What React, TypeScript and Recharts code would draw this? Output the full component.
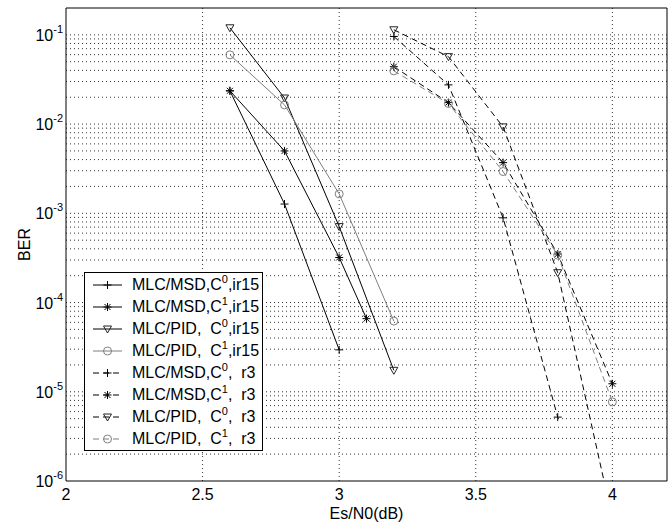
import React from "react";
import { LineChart, Line, XAxis, YAxis, ReferenceLine } from "recharts";

// Es/N0 (dB) positions
const xIr15 = [2.6, 2.8, 3.0, 3.2];
const xIr15Msd1 = [2.6, 2.8, 3.0, 3.1];
const xR3 = [3.2, 3.4, 3.6, 3.8, 4.0];

// BER values
const msdC0Ir15 = [0.0236, 1.27e-3, 2.95e-5];
const msdC1Ir15 = [0.0236, 5.0e-3, 3.2e-4, 6.6e-5];
const pidC0Ir15 = [0.12, 0.0196, 7.1e-4, 1.74e-5];
const pidC1Ir15 = [0.0597, 0.0164, 1.65e-3, 6.2e-5];
const msdC0R3 = [0.096, 0.0275, 8.9e-4, 5.2e-6];
const msdC1R3 = [0.044, 0.0174, 3.7e-3, 3.5e-4, 1.23e-5];
const pidC0R3 = [0.114, 0.057, 9.3e-3, 2.16e-4, 3.8e-7];
const pidC1R3 = [0.0395, 0.017, 2.94e-3, 3.4e-4, 7.7e-6];

const xTicks = [2, 2.5, 3, 3.5, 4];
const xGrid = [2.5, 3, 3.5, 4];
const yTicks = [1e-6, 1e-5, 1e-4, 1e-3, 1e-2, 1e-1];
const minorSteps = [1, 2, 3, 4, 5, 6, 7, 8, 9];
const yGrid = yTicks
  .flatMap((d) => minorSteps.map((m) => m * d))
  .filter((v) => v > 1.01e-6 && v < 0.199);

const X_DOMAIN: [number, number] = [2, 4.2];
const Y_DOMAIN: [number, number] = [1e-6, 0.2];

const BLACK = "#000";
const GRAY = "#7f7f7f";
const TRI = "#222";

type Shape = "plus" | "star" | "tri" | "circle";

interface Series {
  id: string;
  label: string;
  sup: string;
  tail: string;
  xs: number[];
  ys: number[];
  shape: Shape;
  color: string;
  mark: string;
  dashed: boolean;
}

const series: Series[] = [
  { id: "a", label: "MLC/MSD,C", sup: "0", tail: ",ir15", xs: xIr15, ys: msdC0Ir15, shape: "plus", color: BLACK, mark: BLACK, dashed: false },
  { id: "b", label: "MLC/MSD,C", sup: "1", tail: ",ir15", xs: xIr15Msd1, ys: msdC1Ir15, shape: "star", color: BLACK, mark: BLACK, dashed: false },
  { id: "c", label: "MLC/PID,  C", sup: "0", tail: ",ir15", xs: xIr15, ys: pidC0Ir15, shape: "tri", color: BLACK, mark: TRI, dashed: false },
  { id: "d", label: "MLC/PID,  C", sup: "1", tail: ",ir15", xs: xIr15, ys: pidC1Ir15, shape: "circle", color: GRAY, mark: GRAY, dashed: false },
  { id: "e", label: "MLC/MSD,C", sup: "0", tail: ",  r3", xs: xR3, ys: msdC0R3, shape: "plus", color: BLACK, mark: BLACK, dashed: true },
  { id: "f", label: "MLC/MSD,C", sup: "1", tail: ",  r3", xs: xR3, ys: msdC1R3, shape: "star", color: BLACK, mark: BLACK, dashed: true },
  { id: "g", label: "MLC/PID,  C", sup: "0", tail: ",  r3", xs: xR3, ys: pidC0R3, shape: "tri", color: BLACK, mark: TRI, dashed: true },
  { id: "h", label: "MLC/PID,  C", sup: "1", tail: ",  r3", xs: xR3, ys: pidC1R3, shape: "circle", color: GRAY, mark: GRAY, dashed: true },
];

function markerPath(shape: Shape, cx: number, cy: number, color: string, key?: string) {
  if (shape === "plus") {
    return <path key={key} d={`M${cx - 4},${cy}H${cx + 4}M${cx},${cy - 4}V${cy + 4}`} stroke={color} strokeWidth={1} fill="none" />;
  }
  if (shape === "star") {
    return (
      <path
        key={key}
        d={`M${cx - 4},${cy}H${cx + 4}M${cx},${cy - 4}V${cy + 4}M${cx - 3},${cy - 3}L${cx + 3},${cy + 3}M${cx - 3},${cy + 3}L${cx + 3},${cy - 3}`}
        stroke={color}
        strokeWidth={1}
        fill="none"
      />
    );
  }
  if (shape === "tri") {
    return <path key={key} d={`M${cx - 4},${cy - 3}L${cx + 4},${cy - 3}L${cx},${cy + 4}Z`} stroke={color} strokeWidth={1} fill="none" />;
  }
  return <circle key={key} cx={cx} cy={cy} r={4} stroke={color} strokeWidth={1} fill="none" />;
}

const makeDot = (s: Series) => (props: any) => {
  const { cx, cy, index } = props;
  if (cx == null || cy == null) return <g key={`${s.id}-${index}`} />;
  return markerPath(s.shape, cx, cy, s.mark, `${s.id}-${index}`);
};

const YTick = (props: any) => {
  const { x, y, payload } = props;
  const exp = Math.round(Math.log10(payload.value));
  return (
    <text x={x - 3} y={y + 6} textAnchor="end" fontSize={16} fill="#000">
      <tspan>10</tspan>
      <tspan dy={-8} fontSize={11}>{String(exp)}</tspan>
    </text>
  );
};

function LegendBox() {
  return (
    <div
      style={{
        position: "absolute",
        left: 84,
        top: 272,
        width: 177,
        height: 176,
        border: "1px solid #000",
        background: "#fff",
        paddingTop: 1,
        fontFamily: "'Liberation Sans', Arial, sans-serif",
        fontSize: 16,
        color: "#000",
      }}
    >
      {series.map((s) => (
        <div key={s.id} style={{ height: 22, lineHeight: "22px", position: "relative", whiteSpace: "pre" }}>
          <svg width={30} height={22} style={{ position: "absolute", left: 8, top: 0 }}>
            <line x1={0} y1={11} x2={29} y2={11} stroke={s.color} strokeWidth={1} strokeDasharray={s.dashed ? "6 4" : undefined} />
            {markerPath(s.shape, 14.5, 11, s.mark)}
          </svg>
          <span style={{ position: "absolute", left: 47, top: 0 }}>
            {s.label}
            <span style={{ fontSize: 11, position: "relative", top: -7 }}>{s.sup}</span>
            {s.tail}
          </span>
        </div>
      ))}
    </div>
  );
}

export default function App() {
  return (
    <div style={{ position: "absolute", left: 0, top: 0, width: 670, height: 523, background: "#fff" }}>
      <LineChart
        width={670}
        height={523}
        margin={{ top: 8, right: 3, left: 0, bottom: 0 }}
        style={{ fontFamily: "'Liberation Sans', Arial, sans-serif" }}
      >
        <XAxis
          xAxisId="b"
          type="number"
          dataKey="x"
          domain={X_DOMAIN}
          allowDataOverflow
          ticks={xTicks}
          interval={0}
          height={42}
          tickLine={false}
          tickSize={0}
          tickMargin={8}
          axisLine={{ stroke: "#000" }}
          tick={{ fontSize: 16, fill: "#000" }}
          label={{ value: "Es/N0(dB)", position: "insideBottom", offset: 4, fontSize: 16, fill: "#000" }}
        />
        <XAxis
          xAxisId="bm"
          type="number"
          orientation="bottom"
          mirror
          domain={X_DOMAIN}
          allowDataOverflow
          ticks={xGrid}
          interval={0}
          tick={false}
          tickSize={5}
          axisLine={false}
          tickLine={{ stroke: "#000" }}
        />
        <XAxis
          xAxisId="t"
          type="number"
          orientation="top"
          mirror
          domain={X_DOMAIN}
          allowDataOverflow
          ticks={xGrid}
          interval={0}
          tick={false}
          tickSize={5}
          axisLine={{ stroke: "#000" }}
          tickLine={{ stroke: "#000" }}
        />
        <YAxis
          yAxisId="l"
          type="number"
          scale="log"
          domain={Y_DOMAIN}
          allowDataOverflow
          ticks={yTicks}
          interval={0}
          width={66}
          tickLine={false}
          tickSize={0}
          tickMargin={0}
          axisLine={{ stroke: "#000" }}
          tick={<YTick />}
          label={{ value: "BER", angle: -90, position: "insideLeft", offset: 24, fontSize: 16, fill: "#000", style: { textAnchor: "middle" } }}
        />
        <YAxis
          yAxisId="lm"
          type="number"
          scale="log"
          orientation="left"
          mirror
          domain={Y_DOMAIN}
          allowDataOverflow
          ticks={yTicks}
          interval={0}
          tick={false}
          tickSize={5}
          axisLine={false}
          tickLine={{ stroke: "#000" }}
        />
        <YAxis
          yAxisId="r"
          type="number"
          scale="log"
          orientation="right"
          mirror
          domain={Y_DOMAIN}
          allowDataOverflow
          ticks={yTicks}
          interval={0}
          tick={false}
          tickSize={5}
          axisLine={{ stroke: "#000" }}
          tickLine={{ stroke: "#000" }}
        />
        {yGrid.map((v) => (
          <ReferenceLine key={`h${v}`} y={v} xAxisId="b" yAxisId="l" stroke="#333" strokeDasharray="1 3" />
        ))}
        {xGrid.map((v) => (
          <ReferenceLine key={`v${v}`} x={v} xAxisId="b" yAxisId="l" stroke="#333" strokeDasharray="1 3" />
        ))}
        {series.map((s) => (
          <Line
            key={s.id}
            xAxisId="b"
            yAxisId="l"
            data={s.xs.map((x, i) => ({ x, y: s.ys[i] }))}
            dataKey="y"
            type="linear"
            stroke={s.color}
            strokeWidth={1}
            strokeDasharray={s.dashed ? "6 4" : undefined}
            dot={makeDot(s)}
            activeDot={false}
            legendType="none"
            isAnimationActive={false}
          />
        ))}
      </LineChart>
      <LegendBox />
    </div>
  );
}
